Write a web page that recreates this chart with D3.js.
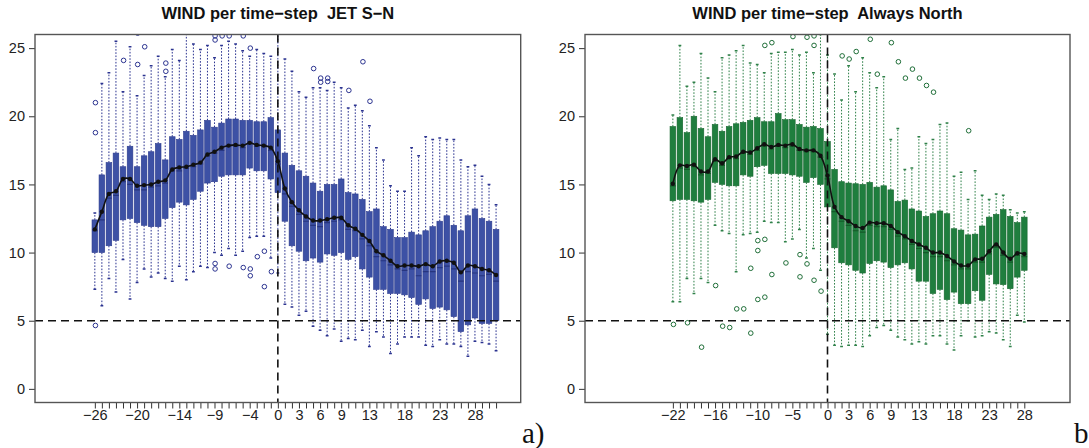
<!DOCTYPE html>
<html><head><meta charset="utf-8">
<script src="https://cdn.jsdelivr.net/npm/d3@7"></script>
<style>body{margin:0;background:#fff} svg{display:block}</style>
</head><body><svg id="c" width="1089" height="448"></svg>
<script>
// ---------------- Panel a) JET S-N ----------------
const jetSteps = [-26,-25,-24,-23,-22,-21,-20,-19,-18,-17,-16,-15,-14,-13,-12,-11,-10,-9,-8,-7,-6,-5,-4,-3,-2,-1,0,1,2,3,4,5,6,7,8,9,10,11,12,13,14,15,16,17,18,19,20,21,22,23,24,25,26,27,28,29,30,31];
const jetLow = [7.3,6.1,8.1,7.1,9.5,6.6,7.8,8.8,8.2,8.5,8.1,7.9,9.0,8.0,8.6,9.0,8.9,10.0,9.8,10.3,9.8,10.1,11.1,11.2,11.2,9.6,8.5,6.2,6.0,5.4,5.7,4.6,4.3,3.9,4.4,3.5,3.7,3.6,4.3,3.1,4.2,3.8,2.6,3.3,3.8,3.8,3.8,3.2,3.1,3.6,3.3,3.3,3.1,2.4,3.5,3.4,3.3,2.8];
const jetQ1 = [10.0,10.0,10.5,10.9,12.4,12.5,12.2,12.0,11.9,11.9,12.5,13.3,13.7,13.5,13.9,14.5,15.1,15.2,15.6,15.7,15.7,15.7,16.2,16.0,16.0,15.4,14.4,12.3,10.5,10.1,9.4,9.6,9.3,9.9,9.8,10.0,9.5,9.7,8.8,8.2,7.3,7.3,7.0,7.0,6.9,6.7,6.2,6.6,5.9,6.0,5.8,5.3,4.2,4.7,5.2,4.8,4.8,5.0];
const jetMedian = [11.6,12.4,14.0,14.2,15.2,15.0,14.6,14.6,14.8,14.9,15.1,16.0,16.0,16.2,16.3,16.5,17.1,17.3,17.5,17.8,17.8,17.7,18.0,17.8,17.8,17.5,16.5,14.3,13.4,12.8,12.3,12.0,11.9,12.2,12.3,12.4,11.7,11.6,11.0,10.5,9.7,9.4,9.1,8.8,8.7,8.8,8.3,8.6,8.6,8.9,9.0,8.8,7.9,8.6,8.5,8.3,8.4,7.9];
const jetQ3 = [12.4,15.7,16.6,17.3,16.3,17.8,16.3,17.1,17.4,18.0,16.8,18.5,18.3,18.9,18.6,19.0,19.7,19.2,19.5,19.8,19.8,19.7,19.7,19.6,19.6,19.9,19.0,17.3,16.4,16.0,15.6,15.1,14.5,15.0,15.0,15.4,14.4,14.3,13.9,13.0,13.2,11.9,11.7,11.1,11.1,11.5,11.3,11.6,11.9,12.3,12.7,12.0,11.6,12.7,13.2,12.5,12.3,11.7];
const jetHigh = [12.9,22.4,23.2,25.5,21.8,25.1,21.5,23.0,23.7,24.4,22.9,24.9,24.1,26.5,25.3,24.9,25.2,24.3,25.2,25.5,25.3,24.8,24.4,24.9,24.6,24.4,26.2,24.2,23.3,21.8,21.4,22.1,22.1,21.9,22.5,22.1,20.6,20.8,20.4,19.3,17.7,16.8,14.9,14.5,14.5,17.7,17.1,18.5,18.3,18.4,18.3,18.3,16.8,16.3,16.4,15.6,15.0,13.5];
const jetMean = [11.7,13.0,14.3,14.5,15.4,15.4,14.9,14.95,15.0,15.2,15.3,16.1,16.25,16.3,16.45,16.6,17.2,17.4,17.7,17.85,17.9,17.85,18.05,17.9,17.85,17.7,16.7,14.7,13.7,13.1,12.65,12.35,12.35,12.45,12.55,12.55,12.0,11.75,11.3,10.85,10.1,9.8,9.4,9.0,9.05,9.05,9.0,9.15,9.0,9.35,9.4,9.25,8.55,9.05,9.0,8.8,8.7,8.35];
const jetOutStep = [-26,-26,-26,-22,-20,-20,-19,-16,-16,-9,-9,-9,-9,-8,-7,-7,-5,-5,-4,-4,-4,-3,-2,-2,-1,0,5,6,6,7,7,10,12,13];
const jetOutVal  = [21.0,18.8,4.65,24.1,23.8,26.1,25.1,23.9,23.3,25.9,25.6,9.2,8.8,25.9,25.9,9.0,25.9,8.9,25.0,8.8,8.3,9.7,10.1,7.5,8.6,26.2,23.5,22.8,22.5,22.8,22.55,21.9,24.0,21.1];
const jetTickLabels = [-26,-20,-14,-9,-4,0,3,6,9,13,18,23,28];

// ---------------- Panel b) Always North ----------------
const northSteps = [-22,-21,-20,-19,-18,-17,-16,-15,-14,-13,-12,-11,-10,-9,-8,-7,-6,-5,-4,-3,-2,-1,0,1,2,3,4,5,6,7,8,9,10,11,12,13,14,15,16,17,18,19,20,21,22,23,24,25,26,27,28];
const northLow = [6.4,6.4,8.1,7.0,8.1,7.8,12.0,11.6,11.4,8.6,11.3,11.4,11.5,12.3,12.2,12.2,10.8,11.0,11.7,9.6,10.3,8.7,4.0,3.2,3.1,3.2,3.2,3.1,3.9,4.5,4.65,4.3,3.8,3.6,3.3,3.45,3.3,3.9,3.9,3.3,2.85,3.9,5.0,3.8,3.9,4.2,4.1,3.6,3.1,5.4,4.9];
const northQ1 = [13.8,13.9,13.9,13.8,13.7,13.9,15.15,15.0,14.9,14.9,15.7,15.6,16.3,16.4,15.8,15.8,15.8,15.7,15.6,15.15,15.5,15.0,13.35,10.35,9.25,9.1,8.7,8.5,9.2,9.4,9.3,8.9,9.1,9.25,8.8,7.9,7.9,7.0,7.3,6.55,7.1,6.25,6.25,7.2,6.5,8.4,7.7,7.65,7.35,8.2,8.7];
const northMedian = [14.9,16.2,16.1,16.3,15.7,15.8,16.7,16.4,16.9,16.9,17.3,17.2,17.5,17.8,17.6,17.8,17.7,17.8,17.5,17.4,17.4,17.0,15.4,13.0,12.3,12.0,11.6,11.5,12.0,11.9,11.9,11.7,11.2,11.0,10.6,10.3,10.0,9.7,9.7,9.4,9.1,8.8,8.8,9.3,9.3,9.9,10.4,9.8,9.3,9.8,9.7];
const northQ3 = [19.25,19.9,18.8,20.0,19.1,18.5,19.4,18.9,19.25,19.45,19.55,19.7,19.9,19.6,19.6,20.2,19.75,19.75,19.4,19.2,19.25,19.1,18.15,16.1,15.2,15.1,15.05,15.0,15.15,14.8,14.9,14.6,13.75,13.85,13.2,13.05,12.65,12.85,13.05,12.85,11.75,11.65,11.3,11.35,11.95,12.6,12.8,13.15,12.65,12.2,12.6];
const northHigh = [20.1,25.2,22.2,22.5,24.6,22.8,21.8,24.3,24.5,24.8,25.2,23.9,23.8,23.2,24.6,24.7,24.7,24.9,24.5,24.7,23.2,26.0,24.5,23.1,21.2,23.7,21.8,24.3,23.2,22.1,22.9,18.3,19.1,16.1,16.2,18.5,18.0,18.3,19.4,19.5,15.6,15.9,13.9,16.0,14.2,13.9,14.3,14.2,13.15,12.9,13.0];
const northMean = [15.05,16.4,16.35,16.45,15.95,15.95,16.85,16.55,17.0,17.05,17.4,17.35,17.65,17.95,17.75,17.9,17.85,17.95,17.6,17.5,17.5,17.1,15.65,13.35,12.6,12.3,11.95,11.8,12.2,12.15,12.15,11.95,11.5,11.2,10.85,10.6,10.35,10.0,10.0,9.75,9.35,9.05,9.05,9.5,9.55,10.1,10.6,10.0,9.55,9.95,9.9];
const northOutStep = [-22,-20,-18,-16,-15,-14,-13,-12,-11,-11,-10,-10,-10,-9,-9,-9,-8,-8,-6,-5,-4,-4,-3,-3,-2,-2,-2,-1,2,3,4,6,7,9,10,11,12,13,14,15,20];
const northOutVal  = [4.73,4.85,3.06,7.58,4.6,4.5,5.87,5.87,8.85,4.09,10.88,10.15,6.56,10.97,6.73,25.2,8.39,25.4,9.24,25.85,9.85,8.22,9.17,25.8,7.97,25.2,25.9,7.17,24.43,24.2,24.75,25.65,23.09,25.4,24.0,22.8,23.46,22.8,22.26,21.77,18.94];
const northTickLabels = [-22,-16,-10,-5,0,3,6,9,13,18,23,28];

const yTicks = [0,5,10,15,20,25];

const svg = d3.select("#c");
const TOP = 34.5, BOTTOM = 402.5;
const y = d3.scaleLinear().domain([-1, 26]).range([BOTTOM, TOP]);

function panel(cfg){
  const x = d3.scaleLinear().domain([-34.5, 34.5]).range([cfg.left, cfg.right]);
  const g = svg.append("g");
  const clipId = "clip" + cfg.id;
  svg.append("clipPath").attr("id", clipId).append("rect")
    .attr("x", cfg.left).attr("y", TOP).attr("width", cfg.right - cfg.left).attr("height", BOTTOM - TOP);
  const pg = g.append("g").attr("clip-path", `url(#${clipId})`);
  const bw = 0.8 * (x(1) - x(0));
  const rows = cfg.steps.map((s,i)=>({s, lo:cfg.low[i], q1:cfg.q1[i], med:cfg.med[i], q3:cfg.q3[i], hi:cfg.high[i], mean:cfg.mean[i]}));

  // whiskers
  pg.selectAll(".wh").data(rows).join("g").each(function(d){
    const gg = d3.select(this);
    const cx = x(d.s);
    gg.append("line").attr("x1",cx).attr("x2",cx).attr("y1",y(d.q3)).attr("y2",y(d.hi))
      .attr("stroke",cfg.whisk).attr("stroke-width",1).attr("stroke-dasharray","1.6,1.6");
    gg.append("line").attr("x1",cx).attr("x2",cx).attr("y1",y(d.q1)).attr("y2",y(d.lo))
      .attr("stroke",cfg.whisk).attr("stroke-width",1).attr("stroke-dasharray","1.6,1.6");
    [d.lo,d.hi].forEach(v=>{
      gg.append("line").attr("x1",cx-bw/4).attr("x2",cx+bw/4).attr("y1",y(v)).attr("y2",y(v))
        .attr("stroke",cfg.whisk).attr("stroke-width",1.5);
    });
  });
  // boxes
  pg.selectAll(".box").data(rows).join("rect")
    .attr("x",d=>x(d.s)-bw/2).attr("width",bw)
    .attr("y",d=>y(d.q3)).attr("height",d=>y(d.q1)-y(d.q3))
    .attr("fill",cfg.fill).attr("stroke",cfg.stroke).attr("stroke-width",0.6);
  pg.selectAll(".med").data(rows).join("line")
    .attr("x1",d=>x(d.s)-bw/2).attr("x2",d=>x(d.s)+bw/2)
    .attr("y1",d=>y(d.med)).attr("y2",d=>y(d.med))
    .attr("stroke",cfg.medCol).attr("stroke-width",1.2);
  // outliers
  const outs = cfg.outStep.map((s,i)=>({s, v:cfg.outVal[i]}));
  pg.selectAll(".out").data(outs).join("circle")
    .attr("cx",d=>x(d.s)+0.6).attr("cy",d=>y(d.v)).attr("r",2.3)
    .attr("fill","none").attr("stroke",cfg.outCol).attr("stroke-width",1);

  // reference dashed lines
  pg.append("line").attr("x1",cfg.left).attr("x2",cfg.right).attr("y1",y(5)).attr("y2",y(5))
    .attr("stroke","#111").attr("stroke-width",1.6).attr("stroke-dasharray","8,5");
  pg.append("line").attr("x1",x(0)).attr("x2",x(0)).attr("y1",TOP).attr("y2",BOTTOM)
    .attr("stroke","#111").attr("stroke-width",1.6).attr("stroke-dasharray","8,5");

  // mean line
  const line = d3.line().x(d=>x(d.s)).y(d=>y(d.mean)).curve(d3.curveCatmullRom.alpha(0.5));
  pg.append("path").datum(rows).attr("d",line).attr("fill","none").attr("stroke","#111").attr("stroke-width",1.6);
  pg.selectAll(".mp").data(rows).join("circle").attr("cx",d=>x(d.s)).attr("cy",d=>y(d.mean)).attr("r",2.2).attr("fill","#111");

  // axes
  const xa = d3.axisBottom(x).tickValues(cfg.steps).tickSize(6).tickPadding(1.5)
    .tickFormat(d=> cfg.labels.includes(d) ? (d<0 ? "\u2212"+Math.abs(d) : String(d)) : "");
  const gx = g.append("g").attr("transform",`translate(0,${BOTTOM})`).call(xa);
  gx.select(".domain").remove();
  gx.selectAll(".tick line").attr("stroke","#333");
  gx.selectAll("text").attr("font-family","'Liberation Sans', Arial, sans-serif").attr("font-size",14.5).attr("fill","#222");

  const ya = d3.axisLeft(y).tickValues(yTicks).tickSize(6).tickPadding(4);
  const gy = g.append("g").attr("transform",`translate(${cfg.left},0)`).call(ya);
  gy.select(".domain").remove();
  gy.selectAll(".tick line").attr("stroke","#333");
  gy.selectAll("text").attr("font-family","'Liberation Sans', Arial, sans-serif").attr("font-size",14.5).attr("fill","#222");

  // border
  g.append("rect").attr("x",cfg.left).attr("y",TOP).attr("width",cfg.right-cfg.left).attr("height",BOTTOM-TOP)
    .attr("fill","none").attr("stroke","#555").attr("stroke-width",1.4);

  // title
  g.append("text").attr("x",(cfg.left+cfg.right)/2).attr("y",19).attr("text-anchor","middle")
    .attr("font-family","'Liberation Sans', Arial, sans-serif").attr("font-weight","bold").attr("font-size",16.5)
    .style("white-space","pre").attr("fill","#111").text(cfg.title);
  // panel letter
  g.append("text").attr("x",cfg.letterX).attr("y",443).attr("font-family","'Liberation Serif', 'Times New Roman', serif")
    .attr("font-size",29).attr("fill","#111").text(cfg.letter);
}

panel({id:"a", left:35, right:520.7, steps:jetSteps, low:jetLow, q1:jetQ1, med:jetMedian, q3:jetQ3, high:jetHigh, mean:jetMean,
  outStep:jetOutStep, outVal:jetOutVal, labels:jetTickLabels,
  fill:"#3d51a5", stroke:"#2c3b8e", medCol:"#27357f", whisk:"#2b3390", outCol:"#2b3390",
  title:"WIND per time\u2212step  JET S\u2212N", letter:"a)", letterX:522});
panel({id:"b", left:585, right:1070, steps:northSteps, low:northLow, q1:northQ1, med:northMedian, q3:northQ3, high:northHigh, mean:northMean,
  outStep:northOutStep, outVal:northOutVal, labels:northTickLabels,
  fill:"#1f7e3e", stroke:"#17672f", medCol:"#145a29", whisk:"#2f8149", outCol:"#1f6e38",
  title:"WIND per time\u2212step  Always North", letter:"b", letterX:1074});
</script></body></html>
